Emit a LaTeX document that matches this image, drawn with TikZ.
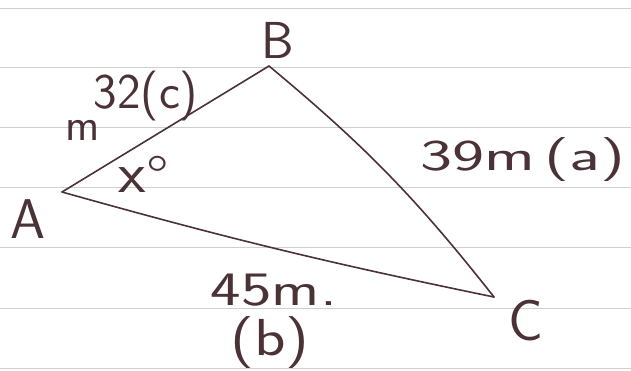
\documentclass[tikz,border=0pt]{standalone}
\usepackage{fontspec}
\begin{document}
\begin{tikzpicture}[x=1pt,y=-1pt,
  ink/.style={draw=inkc, line width=1.6pt, line cap=round, line join=round},
  rule/.style={draw=rulec, line width=1pt},
  lbl/.style={text=inkc, font=\sffamily\fontsize{#1}{#1}\selectfont, inner sep=0pt},
  lbl/.default=44]
\definecolor{inkc}{HTML}{4A3236}
\definecolor{rulec}{HTML}{CFCFD2}
\useasboundingbox[fill=white] (0,0) rectangle (631,370);
% paper rules
\foreach \yy in {8,67,127,187,247,308,368}{
  \draw[rule] (0,\yy) -- (631,\yy);
}
% vertices
\coordinate (A) at (62,192);
\coordinate (B) at (269,66);
\coordinate (C) at (494,297);
\draw[ink] (A) -- (B);
\draw[ink] (B) to[bend left=6] (C);
\draw[ink] (A) to[bend right=2] (C);
% vertex labels
\node[lbl=52] (lB) at (278,40) {B};
\node[lbl=56] (lA) at (28,219) {A};
\node[lbl=58] (lC) at (526,321) {C};
% side labels
\node[lbl=50] (lc32) at (146,96) {32(c)};
\node[lbl=46] (lm) at (83,130) {m};
\node[lbl=58] (lx) at (144,176) {\scalebox{1.1}[1]{x\raisebox{-4pt}{°}}};
\node[lbl=44] (la) at (523,160) {\scalebox{1.55}[1]{39m\hspace{6pt}(a)}};
\node[lbl=48] (lb45) at (274,290) {\scalebox{1.35}[1]{45m.}};
\node[lbl=52] (lb) at (270,343) {\scalebox{1.25}[1]{(b)}};
\end{tikzpicture}
\end{document}
